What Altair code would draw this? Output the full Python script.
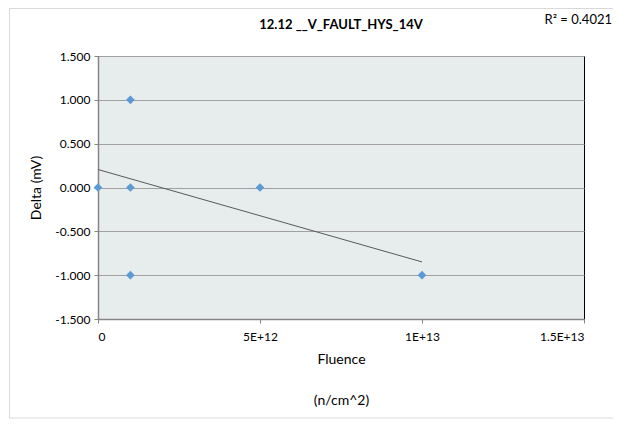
import altair as alt
import pandas as pd

# data
fluence = [0, 1e12, 1e12, 1e12, 5e12, 1e13]
delta = [0.0, 1.0, 0.0, -1.0, 0.0, -1.0]
trend_x = [0, 1e13]
trend_y = [0.205, -0.849]
x_ticks = [0, 5e12, 1e13, 1.5e13]
y_ticks = [-1.5, -1.0, -0.5, 0.0, 0.5, 1.0, 1.5]
title_text = "12.12 __V_FAULT_HYS_14V"
r2_text = "R\u00b2 = 0.4021"

pts = pd.DataFrame({"x": fluence, "y": delta})
trend = pd.DataFrame({"x": trend_x, "y": trend_y})

W, H = 486, 263
PL, PT, PR, PB = 90, 48, 29, 100
FONT = "Lato"

xs = alt.Scale(domain=[0, 1.5e13], nice=False, zero=False)
ys = alt.Scale(domain=[-1.5, 1.5], nice=False, zero=False)

xaxis = alt.Axis(values=x_ticks, grid=False,
                 labelExpr="datum.value == 0 ? '0' : upper(format(datum.value, '.2~e'))",
                 title=["Fluence", "(n/cm^2)"], titleLineHeight=41, titlePadding=10,
                 labelPadding=8)
yaxis = alt.Axis(values=y_ticks, grid=True, title="Delta (mV)", titlePadding=11,
                 labelExpr="replace(format(datum.value, '.3f'), '\u2212', '-')")

points = alt.Chart(pts).mark_point(shape="diamond", filled=True, color="#5B9BD5",
                                   size=75, opacity=1).encode(
    x=alt.X("x:Q", scale=xs, axis=xaxis),
    y=alt.Y("y:Q", scale=ys, axis=yaxis),
)

line = alt.Chart(trend).mark_line(color="#595959", strokeWidth=1).encode(
    x=alt.X("x:Q", scale=xs), y=alt.Y("y:Q", scale=ys)
)

r2 = alt.Chart(pd.DataFrame({"t": [r2_text]})).mark_text(
    align="right", baseline="middle", fontSize=13, font=FONT, color="#000"
).encode(x=alt.value(W + PR - 1), y=alt.value(-PT + 12), text="t:N")

ttl = alt.Chart(pd.DataFrame({"t": [title_text]})).mark_text(
    align="center", baseline="middle", fontSize=13, font=FONT, fontWeight="bold", color="#000"
).encode(x=alt.value(W / 2), y=alt.value(-PT + 17), text="t:N")

frame = alt.Chart(pd.DataFrame({"a": [0]})).mark_rect(
    fill=None, stroke="#d9d9d9", strokeWidth=1
).encode(x=alt.value(-PL + 1.5), x2=alt.value(W + PR + 20),
         y=alt.value(-PT + 0.5), y2=alt.value(H + PB - 1))

chart = alt.layer(frame, line, points, r2, ttl).properties(
    width=W, height=H,
    padding={"left": PL, "top": PT, "right": PR, "bottom": PB},
    autosize=alt.AutoSizeParams(type="none"),
    background="white",
).configure_view(
    fill="#E7ECEC", stroke="#000", strokeWidth=1
).configure_axis(
    labelFont=FONT, labelFontSize=12, labelColor="#000",
    titleFont=FONT, titleFontSize=14, titleFontWeight="normal", titleColor="#000",
    domainColor="#868686", domainWidth=1.5, tickColor="#868686", tickSize=4,
    gridColor="#A0A0A0", gridWidth=1, labelPadding=4,
)

chart.save("out.html", embed_options={"renderer": "svg", "actions": False})
